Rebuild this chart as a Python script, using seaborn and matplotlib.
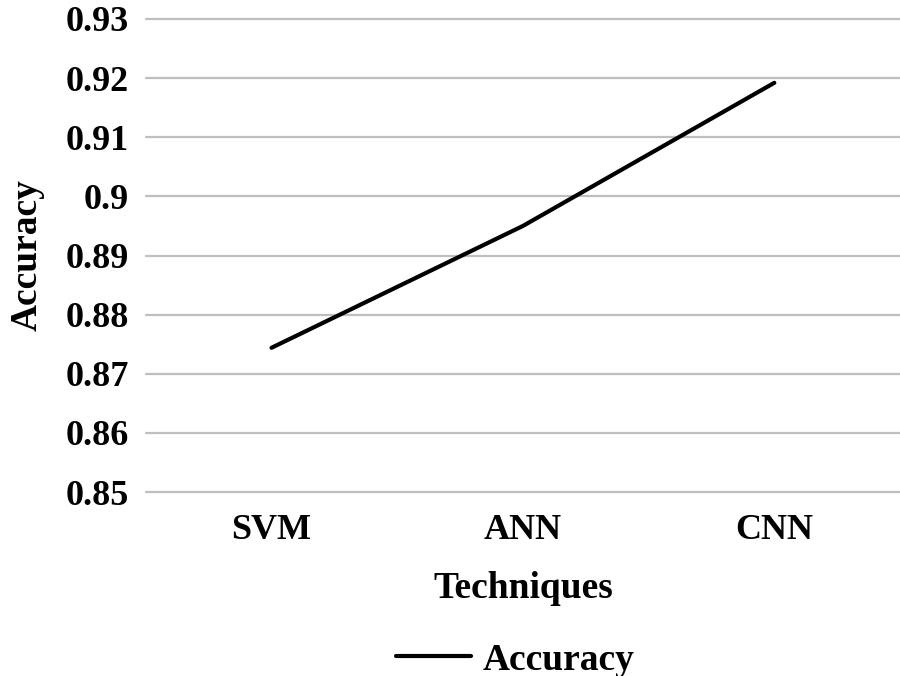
import pandas as pd
import seaborn as sns
import matplotlib.pyplot as plt

techniques = ["SVM", "ANN", "CNN"]
accuracy = [0.8744, 0.8950, 0.9192]
y_ticks = [0.85, 0.86, 0.87, 0.88, 0.89, 0.9, 0.91, 0.92, 0.93]
y_tick_labels = ["0.85", "0.86", "0.87", "0.88", "0.89", "0.9", "0.91", "0.92", "0.93"]

df = pd.DataFrame({"Techniques": techniques, "Accuracy": accuracy})

sns.set_style("white")
plt.rcParams["font.family"] = ["Liberation Serif", "DejaVu Serif"]
plt.rcParams["font.weight"] = "bold"
plt.rcParams["text.color"] = "black"
plt.rcParams["axes.labelcolor"] = "black"
plt.rcParams["xtick.color"] = "black"
plt.rcParams["ytick.color"] = "black"

fig = plt.figure(figsize=(9, 6.76), dpi=100)
ax = fig.add_axes([0.162, 0.272, 0.838, 0.700])

sns.lineplot(data=df, x="Techniques", y="Accuracy", sort=False, color="black",
             linewidth=3, label="Accuracy", ax=ax)

ax.set_xlim(-0.5, 2.5)
ax.set_ylim(0.85, 0.93)
ax.set_yticks(y_ticks)
ax.set_yticklabels(y_tick_labels)
ax.grid(axis="y", color="#bfbfbf", linewidth=1.6)
for gl in ax.get_ygridlines():
    gl.set_clip_on(False)
ax.set_axisbelow(True)
for side in ["top", "right", "left", "bottom"]:
    ax.spines[side].set_visible(False)
ax.tick_params(axis="both", length=0, labelsize=26)
ax.tick_params(axis="y", pad=12)
ax.tick_params(axis="x", pad=16)
for lbl in ax.get_xticklabels() + ax.get_yticklabels():
    lbl.set_fontweight("bold")

ax.set_xlabel("Techniques", fontsize=27, fontweight="bold", labelpad=17)
ax.set_ylabel("Accuracy", fontsize=27, fontweight="bold", labelpad=15)

ax.legend(loc="center", bbox_to_anchor=(0.49, -0.355), frameon=False,
          prop={"size": 27, "weight": "bold"}, handlelength=2.0, handletextpad=0.3)

fig.savefig("out.png", dpi=100)
